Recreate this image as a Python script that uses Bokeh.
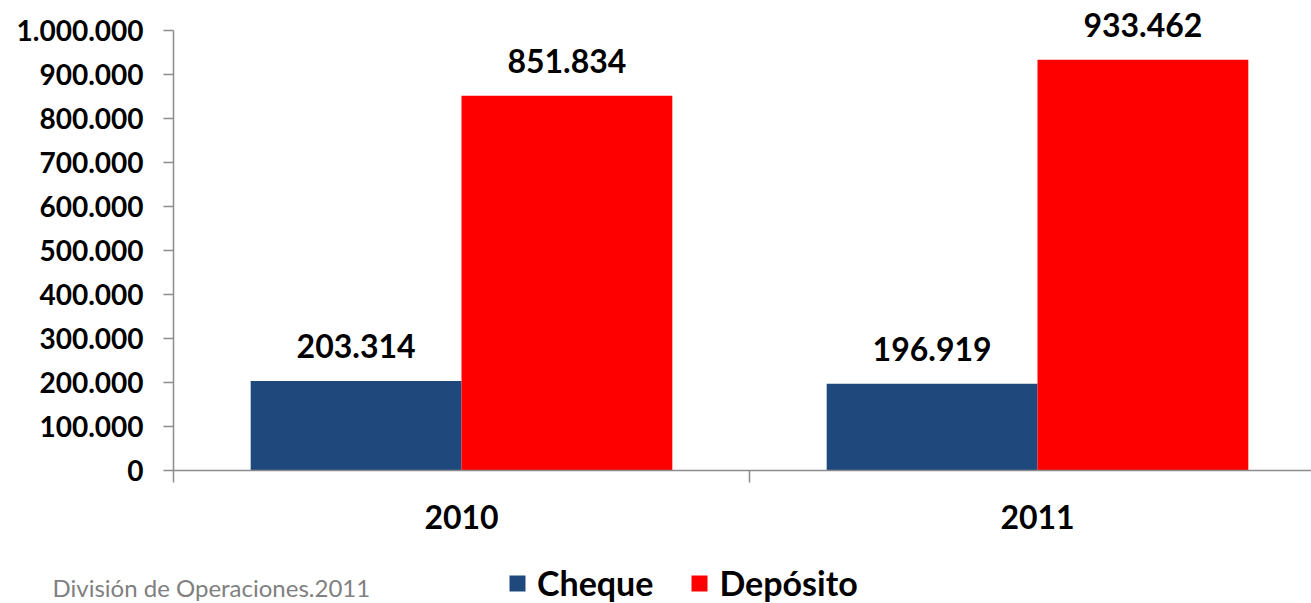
from bokeh.plotting import figure
from bokeh.models import (ColumnDataSource, Range1d, FixedTicker, Legend, LegendItem, Label, LinearAxis)
from bokeh.core.properties import value
from bokeh.transform import dodge
from bokeh.embed import file_html
from bokeh.resources import INLINE

years = ["2010", "2011"]
cheque = [203314, 196919]
deposito = [851834, 933462]
series_names = ["Cheque", "Depósito"]
colors = ["#1F497D", "#FF0000"]
y_ticks = [0, 100000, 200000, 300000, 400000, 500000, 600000, 700000, 800000, 900000, 1000000]
y_tick_labels = ["0", "100.000", "200.000", "300.000", "400.000", "500.000",
                 "600.000", "700.000", "800.000", "900.000", "1.000.000"]
footer = "División de Operaciones.2011"

def fmt(v):
    return f"{v:,}".replace(",", ".")

xs = [i + 0.5 for i in range(len(years))]
src = ColumnDataSource(dict(
    x=xs, cheque=cheque, deposito=deposito,
    cheque_lbl=[fmt(v) for v in cheque], deposito_lbl=[fmt(v) for v in deposito],
))

W, H = 1311, 603
X0, Y0, YTOP = 173, 470, 30          # pixel positions of x=0, y=0, y=1M
CAT = 576                            # pixels per category
PPY = (Y0 - YTOP) / 1_000_000
x_start, x_end = -X0 / CAT, (W - X0) / CAT
y_start, y_end = -(H - Y0) / PPY, 1_000_000 + YTOP / PPY

FONT = "Lato"
p = figure(width=W, height=H, output_backend="svg", toolbar_location=None,
           x_range=Range1d(x_start, x_end), y_range=Range1d(y_start, y_end),
           x_axis_location=None, y_axis_location=None,
           min_border=0)
p.outline_line_color = None
p.grid.visible = False

bw = 0.366
off = 0.183
r1 = p.vbar(x=dodge("x", -off), top="cheque", width=bw, source=src, color=colors[0], line_color=None)
r2 = p.vbar(x=dodge("x", off), top="deposito", width=bw, source=src, color=colors[1], line_color=None)

for col, lbl, o in (("cheque", "cheque_lbl", -off), ("deposito", "deposito_lbl", off)):
    p.text(x=dodge("x", o), y=col, text=lbl, source=src, text_align="center",
           text_baseline="bottom", y_offset=-23, text_font=value(FONT),
           text_font_style="bold", text_font_size="32px", text_color="black")

axis_col = "#8C8C8C"
# y axis
ya = LinearAxis(fixed_location=0, bounds=(0, 1_000_000))
ya.ticker = FixedTicker(ticks=y_ticks)
ya.major_label_overrides = {t: l for t, l in zip(y_ticks, y_tick_labels)}
ya.major_tick_out = 10
ya.major_tick_in = 0
ya.minor_tick_out = 0
ya.minor_tick_in = 0
ya.axis_line_color = axis_col
ya.axis_line_width = 1.5
ya.major_tick_line_color = axis_col
ya.major_tick_line_width = 1.5
ya.major_label_text_font = FONT
ya.major_label_text_font_style = "bold"
ya.major_label_text_font_size = "28px"
ya.major_label_text_color = "black"
ya.major_label_standoff = 20
p.add_layout(ya, "left")

# x axis
xa = LinearAxis(fixed_location=0, bounds=(0, x_end))
xa.ticker = FixedTicker(ticks=xs, minor_ticks=list(range(len(years) + 1)))
xa.major_label_overrides = {x: y for x, y in zip(xs, years)}
xa.major_tick_out = 0
xa.major_tick_in = 0
xa.minor_tick_out = 12
xa.minor_tick_in = 0
xa.minor_tick_line_color = axis_col
xa.minor_tick_line_width = 1.5
xa.axis_line_color = axis_col
xa.axis_line_width = 1.5
xa.major_label_text_font = FONT
xa.major_label_text_font_style = "bold"
xa.major_label_text_font_size = "32px"
xa.major_label_text_color = "black"
xa.major_label_standoff = 22
p.add_layout(xa, "below")

legend = Legend(items=[LegendItem(label=series_names[0], renderers=[r1]),
                       LegendItem(label=series_names[1], renderers=[r2])],
                orientation="horizontal", location=(507, 0),
                padding=0, margin=0, spacing=36, border_line_color=None,
                background_fill_alpha=0, glyph_width=20, glyph_height=20,
                label_standoff=10, label_text_font=FONT, label_text_font_style="bold",
                label_text_font_size="34px", label_text_color="black", label_height=30)
p.add_layout(legend, "center")

p.add_layout(Label(x=52, y=16, x_units="screen", y_units="screen", text=footer,
                   text_font=FONT, text_font_size="24px", text_color="#808080",
                   text_baseline="alphabetic"))

open("out.html", "w").write(file_html(p, INLINE))
